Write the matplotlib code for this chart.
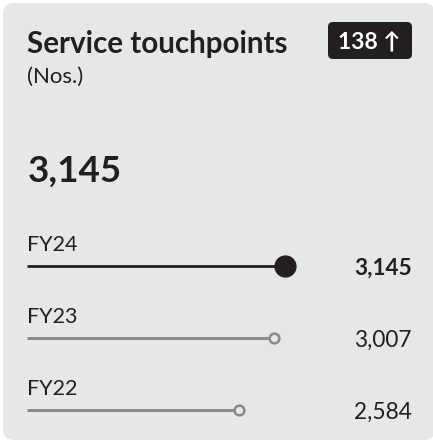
import matplotlib
matplotlib.use("Agg")
import matplotlib.pyplot as plt
from matplotlib.patches import FancyBboxPatch

plt.rcParams['font.family'] = ['Lato', 'DejaVu Sans']

# ---- data ----
title = "Service touchpoints"
unit = "(Nos.)"
headline = "3,145"
change = "138 \u2191"
years = ["FY24", "FY23", "FY22"]
values = [3145, 3007, 2584]
value_labels = ["3,145", "3,007", "2,584"]

# ---- style ----
W, H = 433, 442
DPI = 100
BG = "#e6e7e9"
DARK = "#231f20"
GREY = "#8a8a8a"

fig = plt.figure(figsize=(W / DPI, H / DPI), dpi=DPI)
fig.patch.set_facecolor("white")

# background axes in pixel coordinates (top-left origin)
bg = fig.add_axes([0, 0, 1, 1])
bg.set_xlim(0, W)
bg.set_ylim(H, 0)
bg.axis("off")

card = FancyBboxPatch((3, 3), 432, 437, boxstyle="round,pad=0,rounding_size=11",
                      facecolor=BG, edgecolor="none")
bg.add_patch(card)

badge = FancyBboxPatch((328, 22), 84, 37, boxstyle="round,pad=0,rounding_size=5",
                       facecolor=DARK, edgecolor="none")
bg.add_patch(badge)

bg.text(27, 53, title, fontsize=21.3, fontweight="bold", color=DARK, va="baseline", ha="left")
bg.text(27, 83, unit, fontsize=16, color=DARK, va="baseline", ha="left")
bg.text(28, 182, headline, fontsize=26.5, fontweight="bold", color=DARK, va="baseline", ha="left")
bg.text(369, 48, change, fontsize=16.5, fontweight="bold", color="white", va="baseline", ha="center")

# slider axes
line_y_top = 266
line_gap = 72
x0_px = 27
span_px = 258
pad = 0.2
top_px = line_y_top - pad * line_gap
bot_px = line_y_top + (len(years) - 1 + pad) * line_gap
ax = fig.add_axes([x0_px / W, 1 - bot_px / H, span_px / W, (bot_px - top_px) / H])
ax.set_xlim(0, max(values))
ax.set_ylim(len(years) - 1 + pad, -pad)
ax.axis("off")
ax.patch.set_alpha(0)

for i, (yr, v, lab) in enumerate(zip(years, values, value_labels)):
    if i == 0:
        ax.plot([0, v], [i, i], color=DARK, lw=2.0, solid_capstyle="butt", zorder=2)
        ax.plot([v], [i], marker="o", ms=15, color=DARK, mec=DARK, zorder=3, clip_on=False)
        weight = "bold"
    else:
        ax.plot([0, v], [i, i], color=GREY, lw=2.1, solid_capstyle="butt", zorder=2)
        ax.plot([v], [i], marker="o", ms=7, mfc=BG, mec=GREY, mew=1.8, zorder=3, clip_on=False)
        weight = "normal"
    ax.annotate(yr, xy=(0, i), xycoords="data", xytext=(0, 15), textcoords="offset pixels",
                fontsize=15.5, color=DARK, ha="left", va="baseline", annotation_clip=False)
    ax.annotate(lab, xy=(412, i), xycoords=("figure pixels", "data"), xytext=(0, -9),
                textcoords="offset pixels", fontsize=16.3, fontweight=weight, color=DARK,
                ha="right", va="baseline", annotation_clip=False)

fig.savefig("out.png", dpi=DPI, facecolor=fig.get_facecolor())
